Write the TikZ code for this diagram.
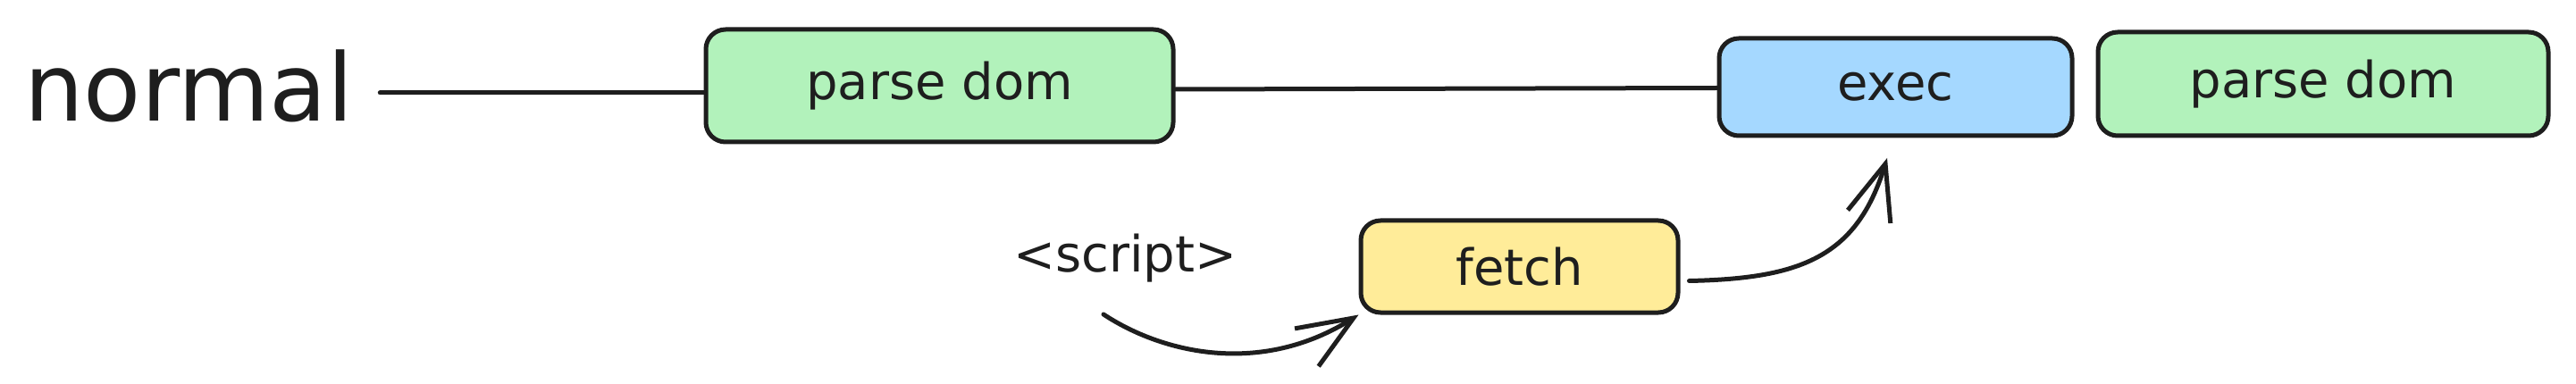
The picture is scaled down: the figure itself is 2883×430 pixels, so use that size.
\documentclass[tikz,border=0pt]{standalone}
\usepackage{fontspec}
\setmainfont{DejaVu Sans}
\usetikzlibrary{arrows.meta}
\definecolor{ink}{HTML}{1E1E1E}
\definecolor{boxgreen}{HTML}{B2F2BB}
\definecolor{boxblue}{HTML}{A5D8FF}
\definecolor{boxyellow}{HTML}{FFEC99}
\begin{document}
\begin{tikzpicture}[x=1pt,y=-1pt,
  box/.style={draw=ink, line width=5pt, rounded corners=22pt, text=ink,
    font=\fontsize{56}{60}\selectfont, inner sep=0pt},
  plainlabel/.style={text=ink, inner sep=0pt},
  conn/.style={draw=ink, line width=5pt, line cap=round},
  arr/.style={conn, -{Straight Barb[length=62pt, width=50pt]}}]
\path[fill=white] (0,0) rectangle (2883,430);
\useasboundingbox (0,0) rectangle (2883,430);

\node[plainlabel, anchor=base west, font=\fontsize{105}{115}\selectfont] (normal) at (27,136) {normal};
\node[box, fill=boxgreen, minimum width=523pt, minimum height=126pt] (pd1) at (1051.5,96) {parse dom};
\node[box, fill=boxblue, minimum width=395pt, minimum height=109pt] (exec) at (2121.5,97.5) {exec};
\node[box, fill=boxgreen, minimum width=504pt, minimum height=116pt] (pd2) at (2600,94) {parse dom};
\node[box, fill=boxyellow, minimum width=355pt, minimum height=103pt] (fetch) at (1700.5,298.5) {fetch};
\node[plainlabel, anchor=base west, font=\fontsize{56}{60}\selectfont] (script) at (1134,305) {<script>};

\coordinate (l1) at ([yshift=-8pt]pd1.west);
\draw[conn, shorten <=30pt] (normal.east |- l1) -- (l1);
\draw[conn] ([yshift=-4pt]pd1.east) -- ([yshift=-1pt]exec.west);

\coordinate (s1) at (1235,352);
\draw[arr] (s1) .. controls (1300,395) and (1410,422) .. (fetch.south west);

\coordinate (t2) at (2112,177);
\draw[arr] ([xshift=10pt,yshift=-16pt]fetch.east) .. controls (2015,312) and (2078,288) .. (t2);
\end{tikzpicture}
\end{document}
